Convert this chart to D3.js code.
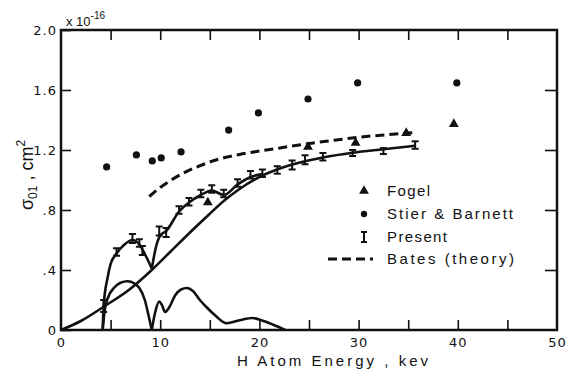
<!DOCTYPE html>
<html>
<head>
<meta charset="utf-8">
<script src="https://cdn.jsdelivr.net/npm/d3@7"></script>
<style>
    body { margin: 0; background: #fff; }
    text { font-family: "Liberation Sans", Arial, sans-serif; fill: #111; }
</style>
</head>
<body>
<div id="chart"></div>
<script>
// Ejes
const xTickValues = [0, 10, 20, 30, 40, 50];
const yTickValues = [0, 0.4, 0.8, 1.2, 1.6, 2.0];
const yTickLabels = ["0", ".4", ".8", "1.2", "1.6", "2.0"];

// Stier & Barnett (puntos)
const stierE = [4.6, 7.6, 9.2, 10.1, 12.1, 16.9, 19.9, 24.9, 29.9, 39.9];
const stierSigma = [1.087, 1.167, 1.127, 1.147, 1.187, 1.333, 1.447, 1.54, 1.647, 1.647];

// Fogel (triángulos)
const fogelE = [14.8, 24.9, 29.7, 34.8, 39.6];
const fogelSigma = [0.85, 1.22, 1.247, 1.313, 1.373];

// Present (barras de error)
const presentE = [4.3, 5.6, 7.2, 7.9, 8.2, 9.9, 10.6, 11.9, 12.9, 14.1, 15.2, 16.4, 17.8, 19.1, 20.3, 21.8, 23.3, 24.6, 26.4, 29.4, 32.5, 35.7];
const presentSigma = [0.16, 0.52, 0.61, 0.58, 0.53, 0.66, 0.65, 0.80, 0.855, 0.91, 0.94, 0.91, 0.98, 1.035, 1.045, 1.067, 1.10, 1.135, 1.155, 1.18, 1.193, 1.233];
const presentErr = [0.04, 0.025, 0.03, 0.025, 0.03, 0.03, 0.03, 0.025, 0.025, 0.025, 0.025, 0.025, 0.025, 0.025, 0.025, 0.025, 0.03, 0.03, 0.025, 0.02, 0.02, 0.025];

// Curva ajustada (dos tramos: pico y subida)
const peakE = [4.2, 4.3, 4.7, 5.0, 5.6, 6.4, 7.2, 7.9, 8.5, 9.15];
const peakSigma = [0.0, 0.16, 0.35, 0.44, 0.51, 0.57, 0.60, 0.57, 0.50, 0.41];
const riseE = [9.15, 9.6, 10.0, 10.6, 11.9, 12.9, 14.1, 15.2, 16.4, 17.8, 19.1, 20.3];
const riseSigma = [0.41, 0.56, 0.63, 0.66, 0.79, 0.85, 0.90, 0.93, 0.90, 0.97, 1.02, 1.04];

// Curva suave desde el origen
const smoothE = [0, 2, 4.3, 6.9, 9.15, 11, 13, 15, 16.4, 18, 20, 22, 24, 26.4, 29.4, 32.5, 35.7];
const smoothSigma = [0, 0.06, 0.155, 0.27, 0.40, 0.52, 0.65, 0.775, 0.86, 0.94, 1.02, 1.075, 1.115, 1.15, 1.182, 1.205, 1.228];

// Curva oscilante inferior (dos tramos)
const osc1E = [4.2, 4.4, 4.7, 5.4, 6.0, 6.7, 7.4, 7.9, 8.45, 8.85, 9.15];
const osc1Sigma = [0, 0.13, 0.21, 0.285, 0.315, 0.325, 0.31, 0.28, 0.2, 0.09, 0];
const osc2E = [9.15, 9.5, 9.9, 10.15, 10.5, 10.9, 11.5, 12.1, 12.7, 13.3, 14, 14.7, 15.5, 16.7, 18, 19.3, 20.2, 21.4, 22.6];
const osc2Sigma = [0, 0.12, 0.19, 0.17, 0.12, 0.15, 0.23, 0.27, 0.28, 0.26, 0.2, 0.15, 0.1, 0.045, 0.065, 0.08, 0.065, 0.035, 0];

// Bates (teoría), discontinua
const batesE = [8.9, 10, 11, 12.3, 14, 15.7, 18, 20.7, 22.5, 24.9, 27.5, 30, 33, 35.9];
const batesSigma = [0.89, 0.95, 0.995, 1.045, 1.095, 1.135, 1.17, 1.2, 1.218, 1.242, 1.265, 1.285, 1.303, 1.318];

const width = 570, height = 373;
const plot = { left: 61, right: 557, top: 30, bottom: 330 };

const svg = d3.select("#chart").append("svg")
    .attr("width", width)
    .attr("height", height);

const x = d3.scaleLinear().domain([0, 50]).range([plot.left, plot.right]);
const y = d3.scaleLinear().domain([0, 2]).range([plot.bottom, plot.top]);

const ink = "#111";

// Marcas internas en los cuatro lados
function styleAxis(g) {
    g.select(".domain").remove();
    g.selectAll(".tick line").attr("stroke", ink).attr("stroke-width", 1.6);
    g.selectAll(".tick text")
        .style("font-family", "'DejaVu Sans', sans-serif")
        .style("font-size", "13px")
        .style("letter-spacing", "1px")
        .attr("fill", ink);
}

svg.append("g")
    .attr("transform", `translate(0,${plot.bottom})`)
    .call(d3.axisBottom(x).tickValues(d3.range(5, 50, 5)).tickSize(-10).tickFormat(""))
    .call(styleAxis);

svg.append("g")
    .attr("transform", `translate(0,${plot.bottom})`)
    .call(d3.axisBottom(x).tickValues(xTickValues).tickSize(0).tickPadding(8).tickFormat(d3.format("d")))
    .call(styleAxis);

svg.append("g")
    .attr("transform", `translate(0,${plot.top})`)
    .call(d3.axisTop(x).tickValues(d3.range(5, 50, 5)).tickSize(-10).tickFormat(""))
    .call(styleAxis);

svg.append("g")
    .attr("transform", `translate(${plot.left},0)`)
    .call(d3.axisLeft(y).tickValues(yTickValues).tickSize(-10).tickPadding(4)
        .tickFormat((d, i) => yTickLabels[i]))
    .call(styleAxis);

svg.append("g")
    .attr("transform", `translate(${plot.right},0)`)
    .call(d3.axisRight(y).tickValues(yTickValues.slice(1, -1)).tickSize(-12).tickFormat(""))
    .call(styleAxis);

// Marco
svg.append("rect")
    .attr("x", plot.left)
    .attr("y", plot.top)
    .attr("width", plot.right - plot.left)
    .attr("height", plot.bottom - plot.top)
    .attr("fill", "none")
    .attr("stroke", ink)
    .attr("stroke-width", 2.5);

// Curvas
const line = d3.line()
    .x(d => x(d[0]))
    .y(d => y(d[1]))
    .curve(d3.curveMonotoneX);

function drawCurve(es, sigmas, dashed) {
    svg.append("path")
        .datum(es.map((e, i) => [e, sigmas[i]]))
        .attr("d", line)
        .attr("fill", "none")
        .attr("stroke", ink)
        .attr("stroke-width", dashed ? 3 : 2.6)
        .attr("stroke-dasharray", dashed ? "9,5" : null)
        .attr("stroke-linejoin", "round");
}

drawCurve(smoothE, smoothSigma);
drawCurve(peakE, peakSigma);
drawCurve(riseE, riseSigma);
drawCurve(osc1E, osc1Sigma);
drawCurve(osc2E, osc2Sigma);
drawCurve(batesE, batesSigma, true);

// Barras de error
const capW = 3.5;
const present = presentE.map((e, i) => ({ e, s: presentSigma[i], err: presentErr[i] }));
const bars = svg.selectAll(".bar").data(present).enter().append("g").attr("class", "bar");
bars.append("line")
    .attr("x1", d => x(d.e)).attr("x2", d => x(d.e))
    .attr("y1", d => y(d.s - d.err)).attr("y2", d => y(d.s + d.err))
    .attr("stroke", ink).attr("stroke-width", 2);
bars.append("line")
    .attr("x1", d => x(d.e) - capW).attr("x2", d => x(d.e) + capW)
    .attr("y1", d => y(d.s + d.err)).attr("y2", d => y(d.s + d.err))
    .attr("stroke", ink).attr("stroke-width", 2);
bars.append("line")
    .attr("x1", d => x(d.e) - capW).attr("x2", d => x(d.e) + capW)
    .attr("y1", d => y(d.s - d.err)).attr("y2", d => y(d.s - d.err))
    .attr("stroke", ink).attr("stroke-width", 2);

// Stier & Barnett
svg.selectAll(".stier")
    .data(stierE.map((e, i) => [e, stierSigma[i]]))
    .enter().append("circle")
    .attr("cx", d => x(d[0]))
    .attr("cy", d => y(d[1]))
    .attr("r", 3.6)
    .attr("fill", ink);

// Fogel
const tri = d3.symbol().type(d3.symbolTriangle).size(42);
svg.selectAll(".fogel")
    .data(fogelE.map((e, i) => [e, fogelSigma[i]]))
    .enter().append("path")
    .attr("d", tri)
    .attr("transform", d => `translate(${x(d[0])},${y(d[1])})`)
    .attr("fill", ink);

// Leyenda
const legendX = 364, textX = 387;
const legendRows = [191, 214, 237, 259];

svg.append("path").attr("d", tri)
    .attr("transform", `translate(${legendX},${legendRows[0]})`).attr("fill", ink);
svg.append("circle").attr("cx", legendX).attr("cy", legendRows[1]).attr("r", 3.2).attr("fill", ink);
svg.append("line").attr("x1", legendX).attr("x2", legendX)
    .attr("y1", legendRows[2] - 5).attr("y2", legendRows[2] + 5).attr("stroke", ink).attr("stroke-width", 2);
svg.append("line").attr("x1", legendX - 3).attr("x2", legendX + 3)
    .attr("y1", legendRows[2] - 5).attr("y2", legendRows[2] - 5).attr("stroke", ink).attr("stroke-width", 2);
svg.append("line").attr("x1", legendX - 3).attr("x2", legendX + 3)
    .attr("y1", legendRows[2] + 5).attr("y2", legendRows[2] + 5).attr("stroke", ink).attr("stroke-width", 2);
svg.append("line").attr("x1", 328).attr("x2", 373)
    .attr("y1", legendRows[3]).attr("y2", legendRows[3])
    .attr("stroke", ink).attr("stroke-width", 3).attr("stroke-dasharray", "9,5");

const legendLabels = ["Fogel", "Stier & Barnett", "Present", "Bates (theory)"];
const legendWidths = [43, 126, 60, 127];
svg.selectAll(".legend-label")
    .data(legendLabels)
    .enter().append("text")
    .attr("x", textX)
    .attr("y", (d, i) => legendRows[i] + 5)
    .attr("textLength", (d, i) => legendWidths[i])
    .attr("lengthAdjust", "spacing")
    .style("font-size", "15px")
    .text(d => d);

// Título eje X
svg.append("text")
    .attr("x", 237)
    .attr("y", 366)
    .attr("textLength", 191)
    .attr("lengthAdjust", "spacing")
    .style("font-size", "15px")
    .text("H Atom Energy , kev");

// Título eje Y
const yLabel = svg.append("text")
    .attr("transform", "translate(33,175) rotate(-90)")
    .attr("text-anchor", "middle")
    .style("font-size", "18px");
yLabel.append("tspan").text("σ");
yLabel.append("tspan").attr("dy", 4).style("font-size", "12px").text("01");
yLabel.append("tspan").attr("dy", -4).text(" , cm");
yLabel.append("tspan").attr("dy", -8).style("font-size", "12px").text("2");

// Factor de escala
const scaleLabel = svg.append("text")
    .attr("x", 66)
    .attr("y", 26)
    .style("font-size", "13px");
scaleLabel.append("tspan").text("x 10");
scaleLabel.append("tspan").attr("dy", -7).style("font-size", "10px").text("-16");
</script>
</body>
</html>
